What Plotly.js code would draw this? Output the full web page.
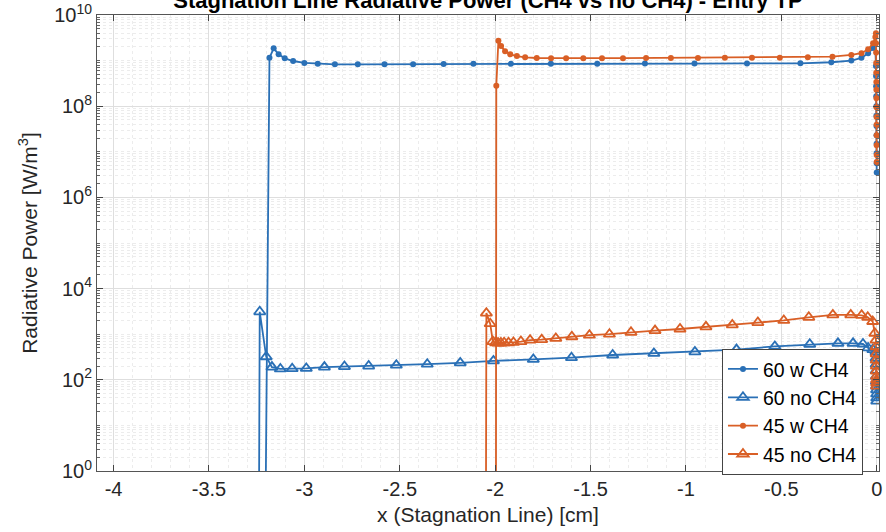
<!DOCTYPE html>
<html>
<head>
<meta charset="utf-8">
<script src="https://cdn.plot.ly/plotly-3.0.1.min.js"></script>
<style>
  html, body { margin: 0; padding: 0; background: #ffffff; }
  #chart { width: 886px; height: 532px; }
</style>
</head>
<body>
<div id="chart"></div>
<script>
// Radiative power along the stagnation line, with and without CH4, for two entry cases.

// 60 case, with CH4 (dots)
const x60w = [-3.206, -3.183, -3.161, -3.135, -3.103, -3.059, -3.000, -2.930, -2.840, -2.720,
  -2.580, -2.430, -2.270, -2.114, -1.918, -1.708, -1.465, -1.215, -0.955, -0.680,
  -0.400, -0.238, -0.133, -0.080, -0.045, -0.019, -0.008,
  -0.004, -0.0035, -0.003, -0.0025, -0.002, -0.0016, -0.0012, -0.0009, -0.0006, -0.0004, -0.0002, 0];
const y60w = [0.01, 1.15e9, 1.86e9, 1.37e9, 1.12e9, 9.8e8, 8.9e8, 8.5e8, 8.3e8, 8.3e8,
  8.3e8, 8.35e8, 8.4e8, 8.5e8, 8.5e8, 8.5e8, 8.55e8, 8.6e8, 8.6e8, 8.65e8,
  8.7e8, 9.2e8, 1.0e9, 1.15e9, 1.45e9, 1.9e9, 2.3e9,
  7.6e8, 4.6e8, 2.75e8, 1.66e8, 1.0e8, 6.2e7, 3.7e7, 2.3e7, 1.5e7, 9.3e6, 5.6e6, 3.5e6];

// 60 case, without CH4 (triangles)
const x60n = [-3.239, -3.234, -3.200, -3.170, -3.126, -3.064, -2.990, -2.895, -2.790, -2.663,
  -2.518, -2.356, -2.183, -2.009, -1.800, -1.600, -1.384, -1.168, -0.953, -0.735,
  -0.534, -0.351, -0.203, -0.124, -0.072, -0.045, -0.020,
  -0.004, -0.0035, -0.003, -0.0025, -0.002, -0.0016, -0.0012, -0.0008, -0.0005, -0.0002, 0];
const y60n = [0.01, 3.1e3, 3.2e2, 1.9e2, 1.73e2, 1.75e2, 1.78e2, 1.9e2, 1.95e2, 2.0e2,
  2.1e2, 2.2e2, 2.35e2, 2.6e2, 2.8e2, 3.05e2, 3.5e2, 3.8e2, 4.1e2, 4.6e2,
  5.4e2, 6.0e2, 6.3e2, 6.3e2, 6.1e2, 5.0e2, 4.6e2,
  4.1e2, 3.0e2, 2.2e2, 1.6e2, 1.2e2, 93, 73, 60, 49, 40, 34];

// 45 case, with CH4 (dots)
const x45w = [-1.996, -1.994, -1.983, -1.969, -1.948, -1.921, -1.886, -1.843, -1.782, -1.707,
  -1.628, -1.538, -1.440, -1.330, -1.209, -1.079, -0.937, -0.796, -0.654, -0.508,
  -0.361, -0.232, -0.133, -0.080, -0.045, -0.019, -0.007, -0.004,
  -0.0035, -0.003, -0.0027, -0.0024, -0.002, -0.0017, -0.0014, -0.0011, -0.0008, -0.0006, -0.0004, -0.0002, -0.0001, 0];
const y45w = [0.01, 2.8e8, 2.74e9, 2.1e9, 1.6e9, 1.37e9, 1.26e9, 1.18e9, 1.14e9, 1.13e9,
  1.13e9, 1.13e9, 1.13e9, 1.13e9, 1.14e9, 1.14e9, 1.14e9, 1.15e9, 1.15e9, 1.16e9,
  1.18e9, 1.22e9, 1.33e9, 1.45e9, 1.77e9, 2.4e9, 3.3e9, 4.0e9,
  2.4e9, 1.5e9, 8.9e8, 5.4e8, 3.4e8, 2.3e8, 1.5e8, 9.5e7, 5.8e7, 3.9e7, 2.3e7, 1.4e7, 8.5e6, 6.0e6];

// 45 case, without CH4 (triangles)
const x45n = [-2.049, -2.046, -2.026, -2.012, -1.998, -1.985, -1.970, -1.953, -1.930, -1.904,
  -1.865, -1.817, -1.756, -1.682, -1.598, -1.506, -1.401, -1.288, -1.162, -1.031,
  -0.895, -0.757, -0.623, -0.487, -0.356, -0.230, -0.136, -0.079, -0.047, -0.021, -0.010,
  -0.004, -0.0035, -0.003, -0.0025, -0.002, -0.0015, -0.001, -0.0006, -0.0003, 0];
const y45n = [0.01, 2.9e3, 1.7e3, 6.9e2, 6.5e2, 6.4e2, 6.4e2, 6.5e2, 6.5e2, 6.6e2,
  6.9e2, 7.4e2, 7.6e2, 8.1e2, 8.8e2, 9.5e2, 1.0e3, 1.1e3, 1.2e3, 1.3e3,
  1.45e3, 1.6e3, 1.8e3, 2.0e3, 2.35e3, 2.65e3, 2.65e3, 2.6e3, 2.35e3, 1.9e3, 1.05e3,
  7.4e2, 5.3e2, 3.7e2, 2.7e2, 2.0e2, 1.55e2, 1.2e2, 1.0e2, 85, 73];

// Axis ticks
const xTickVals = [-4, -3.5, -3, -2.5, -2, -1.5, -1, -0.5, 0];
const xTickText = ['-4', '-3.5', '-3', '-2.5', '-2', '-1.5', '-1', '-0.5', '0'];
const yTickVals = [1, 1e2, 1e4, 1e6, 1e8, 1e10];
const yTickText = ['10<sup>0</sup>', '10<sup>2</sup>', '10<sup>4</sup>', '10<sup>6</sup>', '10<sup>8</sup>', '10<sup>10</sup>'];

const seriesNames = ['60 w CH4', '60 no CH4', '45 w CH4', '45 no CH4'];

const BLUE = '#2a70b6';
const ORANGE = '#d95f26';
const FONT = '"Liberation Sans", Arial, Helvetica, sans-serif';

function dotTrace(name, x, y, color) {
  return {
    type: 'scatter', mode: 'lines+markers', name: name, x: x, y: y,
    line: { color: color, width: 1.8 },
    marker: { symbol: 'circle', size: 6, color: color }
  };
}
function triTrace(name, x, y, color) {
  return {
    type: 'scatter', mode: 'lines+markers', name: name, x: x, y: y,
    line: { color: color, width: 1.8 },
    marker: { symbol: 'triangle-up-open', size: 10, color: color, line: { color: color, width: 1.8 } }
  };
}

const traces = [
  dotTrace(seriesNames[0], x60w, y60w, BLUE),
  triTrace(seriesNames[1], x60n, y60n, BLUE),
  dotTrace(seriesNames[2], x45w, y45w, ORANGE),
  triTrace(seriesNames[3], x45n, y45n, ORANGE)
];

const layout = {
  width: 886, height: 532,
  margin: { l: 97, r: 7, t: 15, b: 61 },
  paper_bgcolor: '#ffffff', plot_bgcolor: '#ffffff',
  font: { family: FONT, color: '#262626' },
  showlegend: true,
  title: {
    text: 'Stagnation Line Radiative Power (CH4 vs no CH4) - Entry TP',
    font: { family: FONT, size: 22, weight: 'bold', color: '#000000' },
    x: 0.5, xref: 'paper', xanchor: 'center',
    y: 1 - 8 / 532, yref: 'container', yanchor: 'bottom'
  },
  xaxis: {
    range: [-4.087, 0.012],
    tickmode: 'array', tickvals: xTickVals, ticktext: xTickText,
    ticks: 'inside', ticklen: 6, tickcolor: '#444',
    showline: true, linecolor: '#555', linewidth: 1, mirror: 'ticks',
    showgrid: true, gridcolor: '#dedede', gridwidth: 1, zeroline: false,
    tickfont: { family: FONT, size: 20, color: '#262626' },
    title: { text: 'x (Stagnation Line) [cm]', font: { family: FONT, size: 21, color: '#262626' }, standoff: 8 },
    minor: { dtick: 0.1, showgrid: true, gridcolor: '#ececec', griddash: 'dot', gridwidth: 1 }
  },
  yaxis: {
    type: 'log', range: [0, 10],
    tickmode: 'array', tickvals: yTickVals, ticktext: yTickText,
    ticks: 'inside', ticklen: 6, tickcolor: '#444',
    showline: true, linecolor: '#555', linewidth: 1, mirror: 'ticks',
    showgrid: true, gridcolor: '#dedede', gridwidth: 1, zeroline: false,
    tickfont: { family: FONT, size: 20, color: '#262626' },
    title: { text: 'Radiative Power [W/m<sup>3</sup>]', font: { family: FONT, size: 21, color: '#262626' }, standoff: 10 },
    minor: { dtick: 'D1', ticks: 'inside', ticklen: 3, tickcolor: '#666', showgrid: true, gridcolor: '#ececec', griddash: 'dot', gridwidth: 1 }
  },
  legend: {
    x: 0.7992, y: 0.268, xanchor: 'left', yanchor: 'top',
    bgcolor: '#ffffff', bordercolor: '#444', borderwidth: 1,
    font: { family: FONT, size: 19.5, color: '#000000' },
    itemwidth: 30, tracegroupgap: 0
  }
};

Plotly.newPlot('chart', traces, layout, { displayModeBar: false, staticPlot: true });
</script>
</body>
</html>
